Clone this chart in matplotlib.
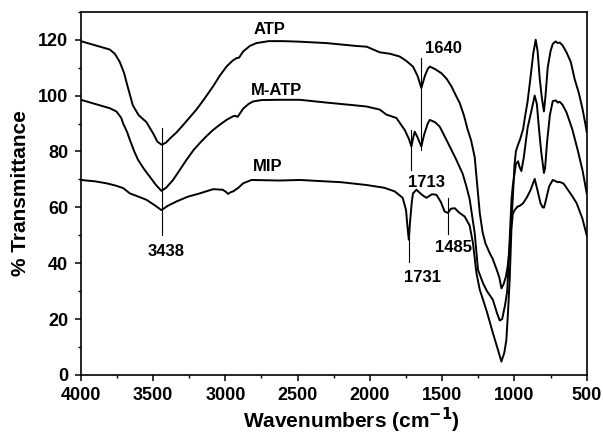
import numpy as np
import matplotlib
matplotlib.use("Agg")
import matplotlib.pyplot as plt
from matplotlib.ticker import MultipleLocator

plt.rcParams['font.family'] = ['Liberation Sans', 'DejaVu Sans']
plt.rcParams['font.weight'] = 'bold'

# FTIR spectra (wavenumber cm-1, % transmittance)
atp_wn = [4000, 3900, 3800, 3765, 3730, 3700, 3680, 3640, 3600, 3546, 3500, 3470,
          3440, 3410, 3380, 3338, 3300, 3250, 3200, 3150, 3085, 3040, 2992, 2950,
          2923, 2905, 2877, 2830, 2785, 2700, 2600, 2485, 2300, 2100, 2022, 1932,
          1863, 1794, 1750, 1702, 1670, 1644, 1620, 1600, 1586, 1550, 1505, 1469,
          1436, 1400, 1379, 1350, 1323, 1300, 1275, 1254, 1240, 1220, 1200, 1171,
          1150, 1125, 1105, 1090, 1075, 1060, 1047, 1035, 1021, 1012, 1000, 990,
          978, 960, 940, 925, 909, 890, 870, 853, 840, 825, 810, 796, 785, 770,
          750, 735, 715, 700, 687, 667, 640, 610, 584, 555, 528, 510, 500]
atp_t = [119.5, 118, 116.5, 115, 112, 108, 104, 96.5, 93, 90.5, 86.5, 83.5,
         82.4, 83.2, 84.8, 86.8, 89, 92, 95, 98.5, 103.3, 107, 110.4, 112.5,
         113.4, 113.6, 115.8, 117.8, 118.8, 119.5, 119.5, 119.3, 118.8, 117.8, 117.5, 115.5,
         115, 114, 112.5, 110.4, 107, 102.7, 107, 109.5, 110.4, 109.5, 108, 106,
         103.3, 99.5, 97.4, 93, 87.7, 84, 78, 66, 58, 51, 47, 43.6,
         41.5, 38, 35, 31, 32.5, 35, 38.8, 45, 55.5, 62.7, 75, 80,
         82, 84.5, 88, 93, 97.9, 106, 115, 120, 116, 106, 99, 94.3, 100, 110,
         116, 118.5, 119.4, 118.8, 119, 118, 115.5, 112, 106, 101, 95, 90, 87]

matp_wn = [4000, 3900, 3800, 3753, 3720, 3707, 3680, 3661, 3630, 3604, 3560, 3523,
           3480, 3442, 3410, 3362, 3320, 3269, 3220, 3177, 3130, 3085, 3040, 2992,
           2950, 2935, 2915, 2877, 2840, 2808, 2750, 2624, 2485, 2300, 2100, 2024,
           1932, 1886, 1817, 1759, 1730, 1713, 1700, 1690, 1670, 1644, 1625, 1600,
           1586, 1550, 1517, 1471, 1440, 1402, 1358, 1332, 1310, 1290, 1275, 1252,
           1217, 1190, 1149, 1120, 1102, 1085, 1065, 1050, 1040, 1030, 1020, 1012,
           1005, 990, 975, 965, 952, 935, 909, 885, 860, 845, 830, 815, 796, 788,
           775, 755, 735, 715, 700, 687, 667, 640, 600, 560, 528, 500]
matp_t = [98.5, 97, 95.5, 94.3, 92, 90, 87, 84.2, 80, 77, 73.5, 71,
          68, 65.9, 67, 69.8, 73, 77, 80.5, 83, 85.5, 87.7, 89.5, 91.3,
          92.5, 92.8, 92.4, 95.3, 97, 97.9, 98.4, 98.5, 98.5, 97.5, 96.5, 96.1,
          95, 93.2, 92, 87.7, 84.5, 81.8, 85, 87.1, 85, 81.8, 86, 90,
          91.3, 90.5, 88.9, 84.2, 81, 77, 72, 67.4, 63, 56, 50.8, 37.6,
          32.8, 30, 26.9, 22, 19.5, 20, 25, 30, 40, 52, 63, 67.5,
          70, 75.5, 76.5, 74.5, 73, 78, 88.5, 94, 100, 97, 88, 80, 72.3, 74,
          83, 93, 98, 98.3, 97.5, 97.8, 96.7, 94, 88, 80, 73, 65]

mip_wn = [4000, 3900, 3822, 3760, 3707, 3661, 3600, 3546, 3490, 3442, 3400, 3338,
          3260, 3177, 3085, 3018, 2995, 2981, 2960, 2946, 2910, 2877, 2819, 2624,
          2485, 2200, 2024, 1900, 1828, 1773, 1750, 1740, 1731, 1722, 1710, 1702,
          1678, 1640, 1609, 1570, 1540, 1510, 1483, 1460, 1440, 1413, 1380, 1344,
          1310, 1287, 1263, 1240, 1217, 1190, 1149, 1120, 1090, 1070, 1056, 1045,
          1033, 1021, 1012, 999, 978, 964, 940, 916, 890, 860, 840, 820, 805, 796,
          785, 760, 735, 722, 700, 687, 660, 640, 600, 570, 530, 500]
mip_t = [69.8, 69.3, 68.6, 67.8, 66.9, 65, 63.8, 62.7, 60.8, 59, 60.5, 62.1,
         63.8, 65, 66.5, 66.3, 65.5, 64.8, 65.5, 65.7, 67, 68.6, 69.8, 69.6,
         69.8, 69, 68, 67, 65.7, 63.4, 59, 53, 48.4, 55, 62, 65,
         66.3, 64.5, 63.4, 64.7, 64.5, 62, 58.5, 58, 59.5, 59.7, 58, 56.7,
         53.5, 47.2, 36.5, 30.5, 26.9, 22.5, 15, 10, 4.8, 8, 12.5, 22,
         34, 52, 57.5, 59, 60.3, 60.5, 61.5, 63.4, 66, 70.2, 66, 61.5, 60, 59.9,
         62, 67.5, 69.8, 69.5, 69, 69.1, 68.5, 67, 64, 61.5, 56, 50]

# peak marker lines: x, y from, y to
mark_x = [3438, 1644, 1713, 1731, 1460]
mark_y0 = [88.5, 113.4, 87.7, 52, 63.4]
mark_y1 = [50.1, 80.6, 73.4, 40.6, 50.5]

# annotation texts: text, x, y
note_txt = ['3438', '1640', '1713', '1731', '1485', 'ATP', 'M-ATP', 'MIP']
note_x = [3408, 1493, 1607, 1635, 1420, 2693, 2648, 2707]
note_y = [44.2, 117, 69, 35, 45.5, 123.5, 102, 74.5]

fig = plt.figure(figsize=(6.03, 4.37), dpi=100)
ax = fig.add_axes([0.134, 0.142, 0.839, 0.831])

for wn, t in [(atp_wn, atp_t), (matp_wn, matp_t), (mip_wn, mip_t)]:
    ax.plot(wn, t, color='black', lw=1.4)

for x, y0, y1 in zip(mark_x, mark_y0, mark_y1):
    ax.plot([x, x], [y0, y1], color='black', lw=0.8)

for s, x, y in zip(note_txt, note_x, note_y):
    ax.text(x, y, s, ha='center', va='center', fontsize=12, fontweight='bold')

ax.set_xlim(4000, 500)
ax.set_ylim(0, 130)
ax.xaxis.set_major_locator(MultipleLocator(500))
ax.xaxis.set_minor_locator(MultipleLocator(250))
ax.yaxis.set_major_locator(MultipleLocator(20))
ax.yaxis.set_minor_locator(MultipleLocator(10))
ax.tick_params(which='major', direction='out', length=4, width=1.1, labelsize=13, pad=5)
ax.tick_params(which='minor', direction='out', length=2.5, width=1.0)
for lab in ax.get_xticklabels() + ax.get_yticklabels():
    lab.set_fontweight('bold')
for sp in ax.spines.values():
    sp.set_linewidth(1.2)

ax.set_xlabel('Wavenumbers (cm$^{\\mathbf{-1}}$)', fontsize=15, fontweight='bold', labelpad=4)
ax.xaxis.set_label_coords(0.535, -0.085)
ax.set_ylabel('% Transmittance', fontsize=15, fontweight='bold', labelpad=6)

fig.savefig('out.png', dpi=100)
